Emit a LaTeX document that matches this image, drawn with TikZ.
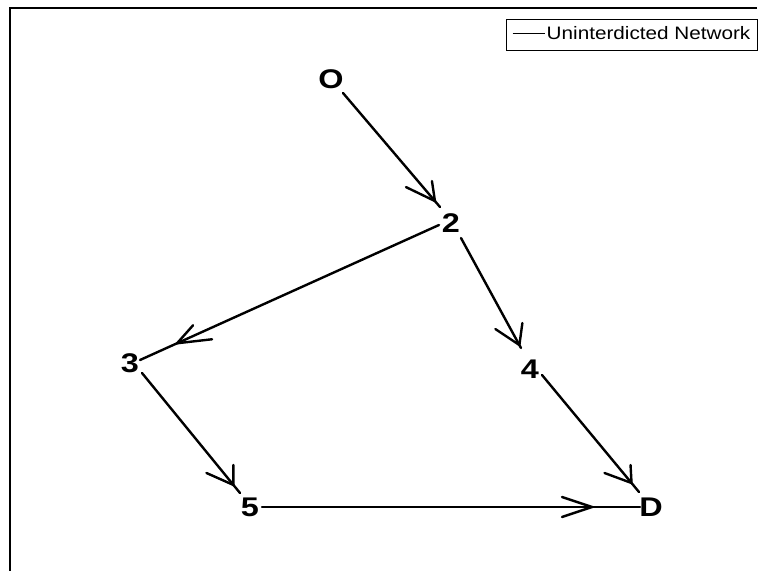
\documentclass[tikz,border=0pt]{standalone}
\usepackage{fontspec}
\setmainfont{Liberation Sans}
\usetikzlibrary{calc}
\tikzset{
  lbl/.style={inner sep=0pt, font=\fontsize{27}{27}\selectfont\bfseries},
  edge/.style={line width=2.4pt, line cap=round},
  wing/.style={line width=2.4pt, line cap=round, line join=miter},
  frame/.style={line width=2pt},
}
\newcommand{\wide}[1]{\scalebox{1.2}[1]{#1}}
\begin{document}
\begin{tikzpicture}[x=1pt,y=-1pt]
\useasboundingbox (0,0) rectangle (761,571);
% axes frame (top and left only)
\draw[frame] (757,8) -- (10,8) -- (10,571);
% legend
\node[draw, line width=1pt, minimum width=251pt, minimum height=31pt, inner sep=0pt] (legend) at (631.5,34.5) {};
\coordinate (lgA) at ($(legend.west)+(7,-1)$);
\coordinate (lgB) at ($(legend.west)+(39,-1)$);
\draw[line width=1pt] (lgA) -- (lgB);
\node[anchor=west, inner sep=0pt, font=\fontsize{18}{18}\selectfont] (legtext) at ($(legend.west)+(41,-1)$) {\scalebox{1.15}[1]{Uninterdicted Network}};
% node labels
\node[lbl] (O) at (331,79) {\wide{O}};
\node[lbl] (n2) at (451,223) {\wide{2}};
\node[lbl] (n3) at (130,363) {\wide{3}};
\node[lbl] (n4) at (530,369) {\wide{4}};
\node[lbl] (n5) at (250,507) {\wide{5}};
\node[lbl] (D) at (651,507) {\wide{D}};
% connector end points
\coordinate (O-s) at ($(O)+(12,14)$);
\coordinate (n2-i) at ($(n2)+(-11,-16)$);
\coordinate (n2-l) at ($(n2)+(-12,2)$);
\coordinate (n2-r) at ($(n2)+(10,15)$);
\coordinate (n3-i) at ($(n3)+(10,-3)$);
\coordinate (n3-o) at ($(n3)+(12,10)$);
\coordinate (n4-i) at ($(n4)+(-9,-21)$);
\coordinate (n4-o) at ($(n4)+(12,6)$);
\coordinate (n5-i) at ($(n5)+(-10,-14)$);
\coordinate (n5-o) at ($(n5)+(12,0)$);
\coordinate (D-a) at ($(D)+(-12,-15)$);
\coordinate (D-b) at ($(D)+(-11,0)$);
% connectors
\draw[edge] (O-s) -- coordinate[pos=0.948] (t1) (n2-i);
\draw[edge] (n2-l) -- coordinate[pos=0.876] (t2) (n3-i);
\draw[edge] (n2-r) -- coordinate[pos=0.973] (t3) (n4-i);
\draw[edge] (n3-o) -- coordinate[pos=0.933] (t4) (n5-i);
\draw[edge] (n4-o) -- coordinate[pos=0.923] (t5) (D-a);
\draw[edge] (n5-o) -- coordinate[pos=0.873] (t6) (D-b);
% arrowheads (open)
\draw[wing] ($(t1)+(-29,-14)$) -- (t1) -- ($(t1)+(-3,-20)$);
\draw[wing] ($(t2)+(16,-18)$) -- (t2) -- ($(t2)+(35,-4)$);
\draw[wing] ($(t3)+(-24,-16)$) -- (t3) -- ($(t3)+(3,-22)$);
\draw[wing] ($(t4)+(-27,-12)$) -- (t4) -- ($(t4)+(0,-20)$);
\draw[wing] ($(t5)+(-27,-10)$) -- (t5) -- ($(t5)+(-1,-18)$);
\draw[wing] ($(t6)+(-30,-10)$) -- (t6) -- ($(t6)+(-30,10)$);
\end{tikzpicture}
\end{document}
